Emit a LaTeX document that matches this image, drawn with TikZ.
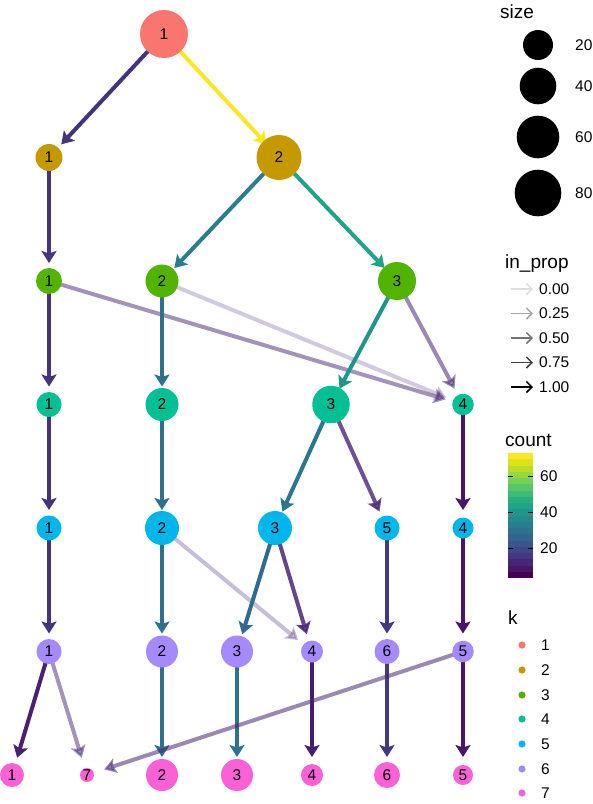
\documentclass[tikz,border=0pt]{standalone}
\usepackage{fontspec}
\setmainfont{Liberation Sans}
\usetikzlibrary{arrows.meta,calc}
\pgfdeclarelayer{bg}
\pgfsetlayers{bg,main}
\definecolor{k1}{HTML}{F8766D}
\definecolor{k2}{HTML}{C49A00}
\definecolor{k3}{HTML}{53B400}
\definecolor{k4}{HTML}{00C094}
\definecolor{k5}{HTML}{00B6EB}
\definecolor{k6}{HTML}{A58AFF}
\definecolor{k7}{HTML}{FB61D7}
\definecolor{v01}{HTML}{440154}\definecolor{v02}{HTML}{481568}
\definecolor{v03}{HTML}{482677}\definecolor{v04}{HTML}{453781}
\definecolor{v05}{HTML}{3F4788}\definecolor{v06}{HTML}{39558C}
\definecolor{v07}{HTML}{32648E}\definecolor{v08}{HTML}{2D718E}
\definecolor{v09}{HTML}{287D8E}\definecolor{v10}{HTML}{238A8D}
\definecolor{v11}{HTML}{1F968B}\definecolor{v12}{HTML}{20A386}
\definecolor{v13}{HTML}{29AF7F}\definecolor{v14}{HTML}{3CBC75}
\definecolor{v15}{HTML}{56C667}\definecolor{v16}{HTML}{75D054}
\definecolor{v17}{HTML}{95D840}\definecolor{v18}{HTML}{BADE28}
\definecolor{v19}{HTML}{DDE318}\definecolor{v20}{HTML}{FDE725}
\definecolor{eA}{HTML}{46337E}
\definecolor{eB}{HTML}{2D718E}
\definecolor{eC}{HTML}{482677}
\definecolor{eD}{HTML}{481568}
\definecolor{eE}{HTML}{306A8E}
\definecolor{eF}{HTML}{482173}
\definecolor{eG}{HTML}{481D6F}
\definecolor{eH}{HTML}{2A788E}
\tikzset{
  nd/.style={circle,inner sep=0pt,minimum size=#1pt,font=\fontsize{15.5}{15.5}\selectfont},
  ed/.style={line width=4pt,-{Stealth[length=12pt,width=15pt,inset=2.5pt]}},
  ttl/.style={anchor=base west,inner sep=0pt,font=\fontsize{19}{19}\selectfont},
  lbl/.style={anchor=west,inner sep=0pt,font=\fontsize{15.5}{15.5}\selectfont},
  legar/.style={line width=1.5pt,-{Straight Barb[length=5.5pt,width=11pt]}}
}
\newcommand{\cedge}[3]{\draw[ed,#3] (#1.center) -- ($(#2.center)!18pt!(#1.center)$);}
\begin{document}
\begin{tikzpicture}[x=1pt,y=-1pt]
\useasboundingbox (0,0) rectangle (593,804);
% nodes
\node[nd=48,fill=k1] (r1c1) at (164,34) {1};
\node[nd=27,fill=k2] (r2c1) at (49,157.5) {1};
\node[nd=45,fill=k2] (r2c2) at (279,157.5) {2};
\node[nd=26,fill=k3] (r3c1) at (49,281) {1};
\node[nd=33,fill=k3] (r3c2) at (162,281) {2};
\node[nd=38,fill=k3] (r3c3) at (397,281) {3};
\node[nd=25,fill=k4] (r4c1) at (49,404.5) {1};
\node[nd=33,fill=k4] (r4c2) at (162,404.5) {2};
\node[nd=37.5,fill=k4] (r4c3) at (331,404.5) {3};
\node[nd=21.5,fill=k4] (r4c4) at (463,404.5) {4};
\node[nd=25,fill=k5] (r5c1) at (49,528) {1};
\node[nd=34,fill=k5] (r5c2) at (162,528) {2};
\node[nd=34,fill=k5] (r5c3) at (275,528) {3};
\node[nd=25,fill=k5] (r5c5) at (387,528) {5};
\node[nd=21,fill=k5] (r5c4) at (463,528) {4};
\node[nd=25,fill=k6] (r6c1) at (49,651.5) {1};
\node[nd=32,fill=k6] (r6c2) at (162,651.5) {2};
\node[nd=32,fill=k6] (r6c3) at (237,651.5) {3};
\node[nd=22,fill=k6] (r6c4) at (312,651.5) {4};
\node[nd=25,fill=k6] (r6c6) at (387,651.5) {6};
\node[nd=21.5,fill=k6] (r6c5) at (463,651.5) {5};
\node[nd=24,fill=k7] (r7c1) at (12,775) {1};
\node[nd=14,fill=k7] (r7c7) at (87,775) {7};
\node[nd=32,fill=k7] (r7c2) at (162,775) {2};
\node[nd=32,fill=k7] (r7c3) at (237,775) {3};
\node[nd=22,fill=k7] (r7c4) at (312,775) {4};
\node[nd=26,fill=k7] (r7c6) at (387,775) {6};
\node[nd=20,fill=k7] (r7c5) at (463,775) {5};
% edges
\begin{pgfonlayer}{bg}
\cedge{r1c1}{r2c1}{eA}
\cedge{r1c1}{r2c2}{v20}
\cedge{r2c1}{r3c1}{eA}
\cedge{r2c2}{r3c2}{v09}
\cedge{r2c2}{r3c3}{v12}
\cedge{r3c1}{r4c1}{eA}
\cedge{r3c1}{r4c4}{eC,opacity=0.5}
\cedge{r3c2}{r4c2}{eB}
\cedge{r3c2}{r4c4}{eC,opacity=0.25}
\cedge{r3c3}{r4c3}{v11}
\cedge{r3c3}{r4c4}{eC,opacity=0.55}
\cedge{r4c1}{r5c1}{eA}
\cedge{r4c2}{r5c2}{eB}
\cedge{r4c3}{r5c3}{eH}
\cedge{r4c3}{r5c5}{eC,opacity=0.8}
\cedge{r4c4}{r5c4}{eD}
\cedge{r5c1}{r6c1}{eA}
\cedge{r5c2}{r6c2}{eB}
\cedge{r5c2}{r6c4}{eC,opacity=0.3}
\cedge{r5c3}{r6c3}{eE}
\cedge{r5c3}{r6c4}{eC,opacity=0.85}
\cedge{r5c5}{r6c6}{v04}
\cedge{r5c4}{r6c5}{eD}
\cedge{r6c1}{r7c1}{eF}
\cedge{r6c1}{r7c7}{eC,opacity=0.5}
\cedge{r6c2}{r7c2}{eB}
\cedge{r6c3}{r7c3}{eB}
\cedge{r6c4}{r7c4}{eG}
\cedge{r6c6}{r7c6}{v04}
\cedge{r6c5}{r7c5}{eD}
\cedge{r6c5}{r7c7}{eC,opacity=0.55}
\end{pgfonlayer}
% legend: size
\node[ttl] (tsize) at (500,18) {size};
\node[circle,fill=black,inner sep=0pt,minimum size=30pt] (s20) at (538,45) {};
\node[circle,fill=black,inner sep=0pt,minimum size=36.6pt] (s40) at (538,86) {};
\node[circle,fill=black,inner sep=0pt,minimum size=42.6pt] (s60) at (538,137) {};
\node[circle,fill=black,inner sep=0pt,minimum size=46.6pt] (s80) at (538,193) {};
\node[lbl] (ls20) at (575,45) {20};
\node[lbl] (ls40) at (575,86) {40};
\node[lbl] (ls60) at (575,137) {60};
\node[lbl] (ls80) at (575,193) {80};
% legend: in_prop
\node[ttl] (tprop) at (505,268) {in\_prop};
\foreach \yy/\gg/\tt [count=\i] in {289/black!13/0.00,313.5/black!35/0.25,338/black!55/0.50,362.5/black!75/0.75,387/black/1.00}{
  \coordinate (pa\i) at (511,\yy);
  \coordinate (pb\i) at (533,\yy);
  \draw[legar,draw=\gg] (pa\i) -- (pb\i);
  \node[lbl] (lp\i) at (539,\yy) {\tt};
}
% legend: count
\node[ttl] (tcount) at (505,446) {count};
\foreach \c [count=\i from 0] in {v01,v02,v03,v04,v05,v06,v07,v08,v09,v10,v11,v12,v13,v14,v15,v16,v17,v18,v19,v20}{
  \fill[\c] (508,{578-\i*6.25}) rectangle (533,{578-(\i+1)*6.25-0.3});
}
\foreach \yy/\tt in {548/20,512/40,476/60}{
  \draw[black,line width=0.9pt] (508,\yy) -- (513,\yy) (528,\yy) -- (533,\yy);
  \node[lbl] at (540,\yy) {\tt};
}
% legend: k
\node[ttl] (tk) at (508,624) {k};
\foreach \yy/\cc/\tt in {645/k1/1,670/k2/2,695/k3/3,719/k4/4,744/k5/5,769/k6/6,793/k7/7}{
  \fill[\cc] (522,\yy) circle (3.6);
  \node[lbl] at (541,\yy) {\tt};
}
\end{tikzpicture}
\end{document}
